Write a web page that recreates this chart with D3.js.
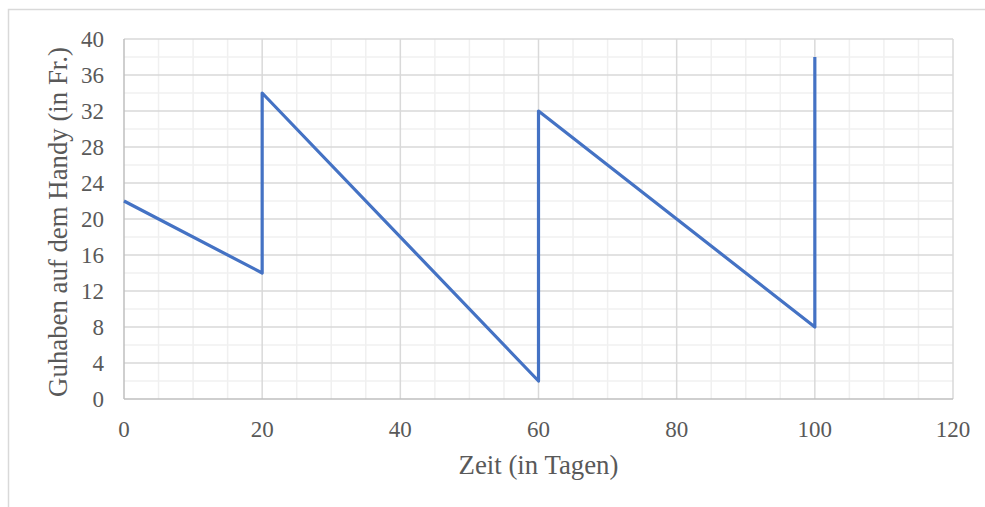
<!DOCTYPE html>
<html>
<head>
<meta charset="utf-8">
<script src="https://cdn.jsdelivr.net/npm/d3@7"></script>
<style>
  body { margin: 0; background: #fff; }
  svg { display: block; }
</style>
</head>
<body>
<div id="container"></div>
<script>
/* DATA */
const days = [0, 20, 20, 60, 60, 100, 100];
const balance = [22, 14, 34, 2, 32, 8, 38];
const xTicks = [0, 20, 40, 60, 80, 100, 120];
const yTicks = [0, 4, 8, 12, 16, 20, 24, 28, 32, 36, 40];
const xTitle = "Zeit (in Tagen)";
const yTitle = "Guhaben auf dem Handy (in Fr.)";

/* CONSTANTS */
const width = 985,
    height = 507,
    margin = { top: 39, bottom: 108, left: 124, right: 32 };

const svg = d3.select("#container")
    .append("svg")
    .attr("width", width)
    .attr("height", height);

// chart border
svg.append("rect")
    .attr("x", 8.5).attr("y", 9.5)
    .attr("width", 1000).attr("height", 600)
    .attr("fill", "white")
    .attr("stroke", "#d9d9d9")
    .attr("stroke-width", 1.5);

//SCALES
const x = d3.scaleLinear()
    .domain([0, 120])
    .range([margin.left, width - margin.right]);

const y = d3.scaleLinear()
    .domain([0, 40])
    .range([height - margin.bottom, margin.top]);

// minor grid
svg.append("g")
    .selectAll("line")
    .data(d3.range(0, 121, 5).filter(d => d % 20 !== 0))
    .join("line")
    .attr("x1", d => x(d)).attr("x2", d => x(d))
    .attr("y1", y(0)).attr("y2", y(40))
    .attr("stroke", "#f0f0f0").attr("stroke-width", 1.5);

svg.append("g")
    .selectAll("line")
    .data(d3.range(0, 41, 2).filter(d => d % 4 !== 0))
    .join("line")
    .attr("x1", x(0)).attr("x2", x(120))
    .attr("y1", d => y(d)).attr("y2", d => y(d))
    .attr("stroke", "#f0f0f0").attr("stroke-width", 1.5);

// major grid
svg.append("g")
    .selectAll("line")
    .data(xTicks.slice(1))
    .join("line")
    .attr("x1", d => x(d)).attr("x2", d => x(d))
    .attr("y1", y(0)).attr("y2", y(40))
    .attr("stroke", "#d9d9d9").attr("stroke-width", 1.5);

svg.append("g")
    .selectAll("line")
    .data(yTicks.slice(1))
    .join("line")
    .attr("x1", x(0)).attr("x2", x(120))
    .attr("y1", d => y(d)).attr("y2", d => y(d))
    .attr("stroke", "#d9d9d9").attr("stroke-width", 1.5);

// axis lines
svg.append("line")
    .attr("x1", x(0)).attr("x2", x(0))
    .attr("y1", y(0)).attr("y2", y(40))
    .attr("stroke", "#bfbfbf").attr("stroke-width", 1.5);
svg.append("line")
    .attr("x1", x(0)).attr("x2", x(120))
    .attr("y1", y(0)).attr("y2", y(0))
    .attr("stroke", "#bfbfbf").attr("stroke-width", 1.5);

// tick labels
const font = "'Liberation Serif', 'Times New Roman', serif";

svg.append("g")
    .selectAll("text")
    .data(xTicks)
    .join("text")
    .attr("x", d => x(d))
    .attr("y", y(0) + 38)
    .attr("text-anchor", "middle")
    .attr("font-family", font)
    .attr("font-size", 23)
    .attr("fill", "#595959")
    .text(d => d);

svg.append("g")
    .selectAll("text")
    .data(yTicks)
    .join("text")
    .attr("x", x(0) - 20)
    .attr("y", d => y(d))
    .attr("dy", "0.34em")
    .attr("text-anchor", "end")
    .attr("font-family", font)
    .attr("font-size", 23)
    .attr("fill", "#595959")
    .text(d => d);

// axis titles
svg.append("text")
    .attr("x", (x(0) + x(120)) / 2)
    .attr("y", 474)
    .attr("text-anchor", "middle")
    .attr("font-family", font)
    .attr("font-size", 26.8)
    .attr("fill", "#595959")
    .text(xTitle);

svg.append("text")
    .attr("transform", `translate(67, ${(y(0) + y(40)) / 2 + 3}) rotate(-90)`)
    .attr("text-anchor", "middle")
    .attr("font-family", font)
    .attr("font-size", 26.8)
    .attr("fill", "#595959")
    .text(yTitle);

// LINE
const points = days.map((d, i) => [d, balance[i]]);
const lineGen = d3.line()
    .x(d => x(d[0]))
    .y(d => y(d[1]));

svg.append("path")
    .datum(points)
    .attr("d", lineGen)
    .attr("fill", "none")
    .attr("stroke", "#4472c4")
    .attr("stroke-width", 3.2)
    .attr("stroke-linejoin", "round")
    .attr("stroke-linecap", "butt");
</script>
</body>
</html>
